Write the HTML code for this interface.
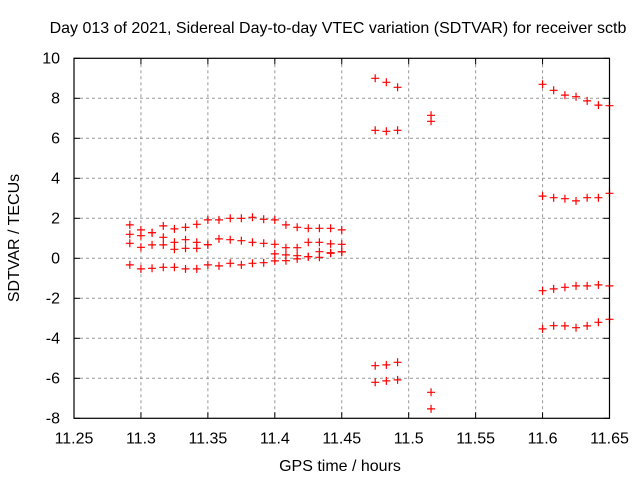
<!DOCTYPE html>
<html><head><meta charset="utf-8"><style>
body{margin:0;background:#fff;}
svg{display:block;font-family:"Liberation Sans",sans-serif;}
</style></head><body>
<svg id="chart" width="640" height="480">
<text x="338" y="33" font-size="16" text-anchor="middle">Day 013 of 2021, Sidereal Day-to-day VTEC variation (SDTVAR) for receiver sctb</text>
<text x="340" y="471" font-size="16" text-anchor="middle">GPS time / hours</text>
<text transform="translate(19,238) rotate(-90)" font-size="16" text-anchor="middle">SDTVAR / TECUs</text>
<g id="grid"></g><g id="marks"></g>
<rect x="74" y="58.3" width="535.5" height="360" fill="none" stroke="#000" stroke-width="1.2"/>
</svg>
<script>
const xTicks=[11.25,11.3,11.35,11.4,11.45,11.5,11.55,11.6,11.65];
const xTickLabels=["11.25","11.3","11.35","11.4","11.45","11.5","11.55","11.6","11.65"];
const yTicks=[-8,-6,-4,-2,0,2,4,6,8,10];
const timesA=[11.2917,11.3,11.3083,11.3167,11.325,11.3333,11.3417,11.35,11.3583,11.3667,11.375,11.3833,11.3917,11.4,11.4083,11.4167,11.425,11.4333,11.4417,11.45];
const s1A=[1.67,1.42,1.28,1.62,1.47,1.55,1.7,1.92,1.92,2.0,2.0,2.05,1.95,1.92,1.67,1.55,1.5,1.5,1.5,1.42];
const s2A=[1.2,1.13,1.28,1.05,0.8,0.93,0.8,0.68,0.97,0.93,0.88,0.8,0.75,0.7,0.53,0.53,0.8,0.8,0.72,0.7];
const s3A=[0.75,0.55,0.67,0.67,0.45,0.5,0.5,0.68,null,null,null,null,null,0.22,0.17,0.13,0.08,0.33,0.28,0.32];
const s4A=[-0.33,-0.53,-0.5,-0.45,-0.45,-0.53,-0.53,-0.33,-0.38,-0.25,-0.33,-0.25,-0.22,-0.13,-0.12,-0.03,0.08,0.05,0.25,0.32];
const timesB=[11.475,11.4833,11.4917];
const s1B=[9.0,8.8,8.55];
const s2B=[6.4,6.35,6.4];
const s3B=[-5.37,-5.33,-5.2];
const s4B=[-6.2,-6.13,-6.08];
const timesC=[11.5167];
const s1C=[7.15];
const s2C=[6.85];
const s3C=[-6.7];
const s4C=[-7.53];
const timesD=[11.6,11.6083,11.6167,11.625,11.6333,11.6417,11.65];
const s1D=[8.7,8.4,8.16,8.08,7.87,7.66,7.63];
const s2D=[3.11,3.03,2.98,2.87,3.03,3.03,3.25];
const s3D=[-1.62,-1.53,-1.45,-1.38,-1.38,-1.33,-1.38];
const s4D=[-3.53,-3.37,-3.38,-3.47,-3.38,-3.2,-3.05];

const L=74,R=609.5,T=58.3,B=418.3;
const xs=v=>L+(v-11.25)/0.4*(R-L);
const ys=v=>B-(v+8)/18*(B-T);
const NS="http://www.w3.org/2000/svg";
const grid=document.getElementById('grid'),marks=document.getElementById('marks');
function mk(t,a,p){const e=document.createElementNS(NS,t);for(const k in a)e.setAttribute(k,a[k]);p.appendChild(e);return e;}
xTicks.forEach((v,i)=>{const x=xs(v);
 if(i>0&&i<xTicks.length-1){const g=mk('line',{x1:x,x2:x,y1:T,y2:B,stroke:'#999','stroke-dasharray':'3,3'},grid);
 
 }
 const tk=mk('line',{x1:x,x2:x,y1:B,y2:B-6,stroke:'#000'},grid);
 
 
 const tk2=mk('line',{x1:x,x2:x,y1:T,y2:T+6,stroke:'#000'},grid);
 
 
 const t=mk('text',{x:x,y:B+25,'font-size':16,'text-anchor':'middle'},grid);t.textContent=xTickLabels[i];
 
 
});
yTicks.forEach((v,i)=>{const y=ys(v);
 if(i>0&&i<yTicks.length-1){const g=mk('line',{x1:L,x2:R,y1:y,y2:y,stroke:'#999','stroke-dasharray':'3,3'},grid);
 
 }
 const tk=mk('line',{x1:L,x2:L+6,y1:y,y2:y,stroke:'#000'},grid);
 
 
 const tk2=mk('line',{x1:R,x2:R-6,y1:y,y2:y,stroke:'#000'},grid);
 
 
 const t=mk('text',{x:L-14,y:y+5,'font-size':16,'text-anchor':'end'},grid);t.textContent=String(v);
 
 
});
function plot(times,vals){times.forEach((tm,i)=>{const v=vals[i];if(v===null)return;
 const x=xs(tm),y=ys(v);
 const p=mk('path',{d:`M${x-4},${y}H${x+4}M${x},${y-4}V${y+4}`,stroke:'#f00','stroke-width':1.2,fill:'none'},marks);
 
 
});}
[[timesA,[s1A,s2A,s3A,s4A]],[timesB,[s1B,s2B,s3B,s4B]],[timesC,[s1C,s2C,s3C,s4C]],[timesD,[s1D,s2D,s3D,s4D]]].forEach(([t,ss])=>ss.forEach(s=>plot(t,s)));
</script>
</body></html>
